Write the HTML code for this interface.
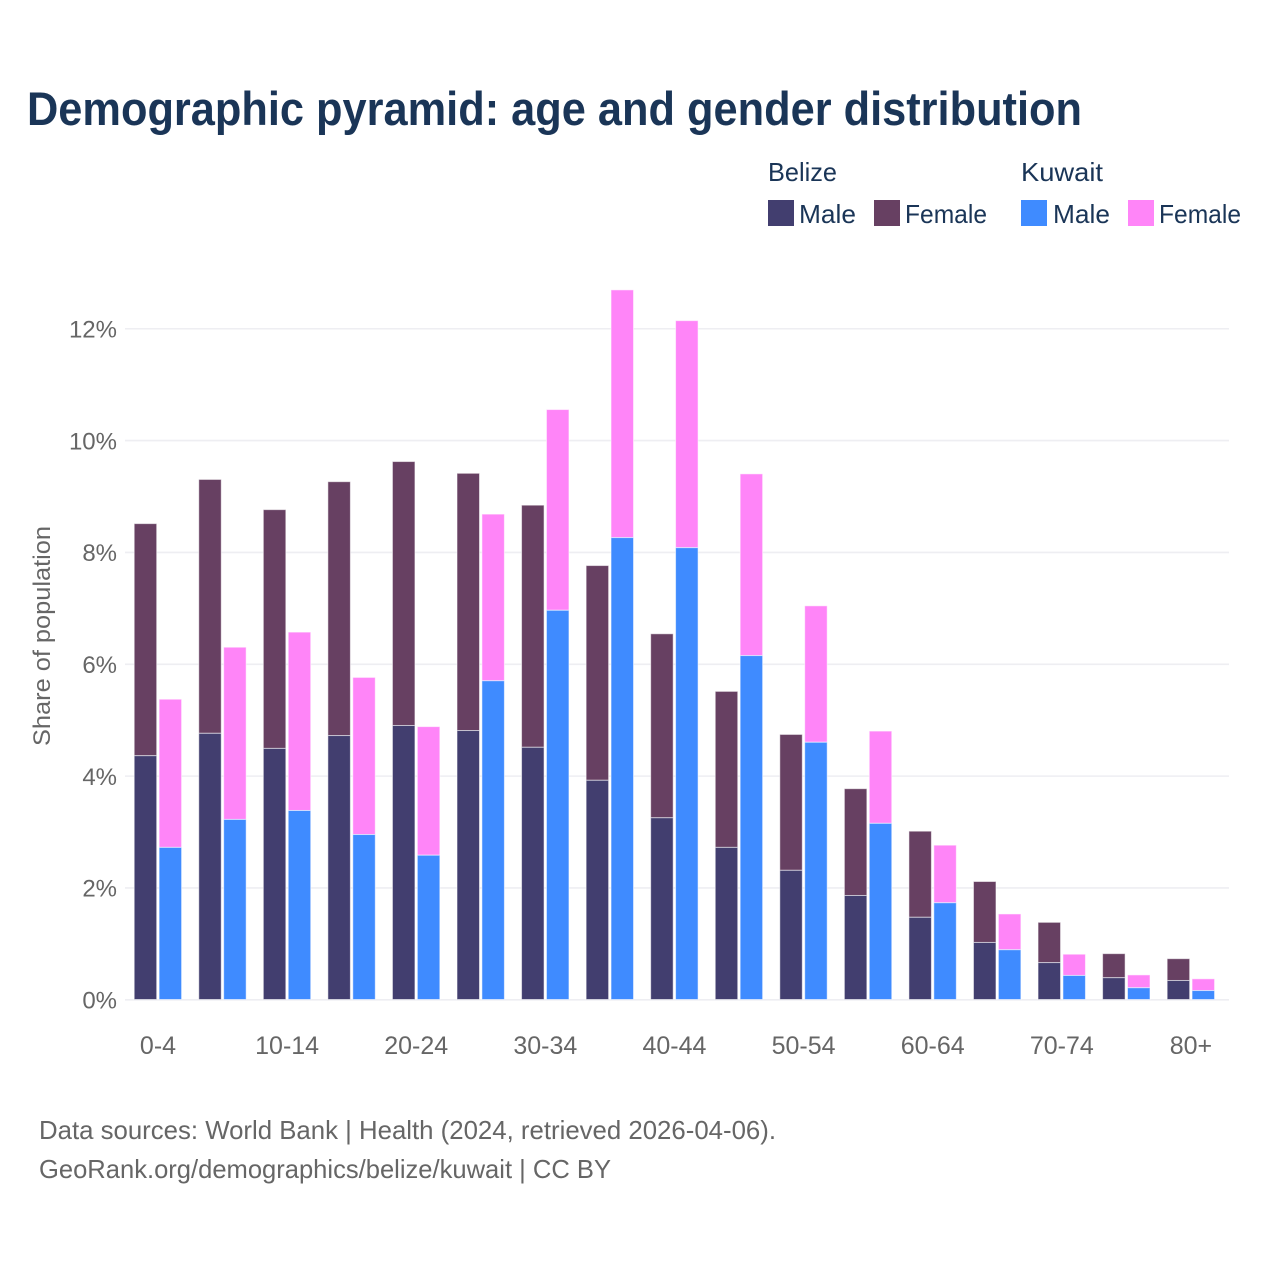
<!DOCTYPE html>
<html lang="en">
<head>
<meta charset="utf-8">
<title>Demographic pyramid: age and gender distribution</title>
<style>
  html, body { margin: 0; padding: 0; background: #ffffff; }
  svg { display: block; }
  text { font-family: "Liberation Sans", sans-serif; }
</style>
</head>
<body>
<svg id="chart" xmlns="http://www.w3.org/2000/svg" width="1280" height="1280" viewBox="0 0 1280 1280">
  <rect x="0" y="0" width="1280" height="1280" fill="#ffffff"/>
  <text x="27" y="125" font-size="47" font-weight="700" fill="#1a3557" textLength="1055" lengthAdjust="spacingAndGlyphs">Demographic pyramid: age and gender distribution</text>

  <g font-size="26" fill="#1a3557">
    <text x="768" y="181" textLength="69" lengthAdjust="spacingAndGlyphs">Belize</text>
    <text x="1021" y="181" textLength="82" lengthAdjust="spacingAndGlyphs">Kuwait</text>
    <rect x="768" y="200" width="26" height="26" fill="#423e6f"/>
    <text x="799" y="223" textLength="57" lengthAdjust="spacingAndGlyphs">Male</text>
    <rect x="874" y="200" width="26" height="26" fill="#674062"/>
    <text x="905" y="223" textLength="82" lengthAdjust="spacingAndGlyphs">Female</text>
    <rect x="1021" y="200" width="26" height="26" fill="#3f8bff"/>
    <text x="1053" y="223" textLength="57" lengthAdjust="spacingAndGlyphs">Male</text>
    <rect x="1128" y="200" width="26" height="26" fill="#ff85f8"/>
    <text x="1159" y="223" textLength="82" lengthAdjust="spacingAndGlyphs">Female</text>
  </g>

  <g id="grid"></g>
  <g id="yticks"></g>
  <g id="bars"></g>
  <g id="xticks"></g>

  <text transform="translate(50,746) rotate(-90)" x="0" y="0" font-size="24" fill="#666666" textLength="220" lengthAdjust="spacingAndGlyphs">Share of population</text>

  <text x="39" y="1139" font-size="26" fill="#666666" textLength="737" lengthAdjust="spacingAndGlyphs">Data sources: World Bank | Health (2024, retrieved 2026-04-06).</text>
  <text x="39" y="1178" font-size="26" fill="#666666" textLength="572" lengthAdjust="spacingAndGlyphs">GeoRank.org/demographics/belize/kuwait | CC BY</text>
</svg>
<script>
const ageGroups = ["0-4","5-9","10-14","15-19","20-24","25-29","30-34","35-39","40-44","45-49","50-54","55-59","60-64","65-69","70-74","75-79","80+"];
const belizeMale = [4.36,4.76,4.49,4.72,4.90,4.81,4.51,3.92,3.25,2.72,2.31,1.86,1.47,1.02,0.66,0.39,0.34];
const belizeFemale = [4.15,4.54,4.27,4.54,4.72,4.60,4.33,3.84,3.29,2.79,2.43,1.91,1.54,1.09,0.72,0.43,0.39];
const kuwaitMale = [2.72,3.22,3.38,2.95,2.58,5.70,6.96,8.26,8.08,6.15,4.60,3.15,1.73,0.89,0.43,0.21,0.16];
const kuwaitFemale = [2.65,3.08,3.19,2.81,2.30,2.98,3.59,4.43,4.06,3.25,2.44,1.65,1.03,0.64,0.38,0.23,0.21];
const yTicks = [0,2,4,6,8,10,12];
const xTickLabels = ["0-4","10-14","20-24","30-34","40-44","50-54","60-64","70-74","80+"];

const NS = "http://www.w3.org/2000/svg";
const plotLeft = 125, plotRight = 1229;
function yScale(v) { return 999.5 - v * 55.92; }
function xCenter(i) { return 158 + i * 64.56; }

function makeRect(x, y, w, h, fill) {
  const r = document.createElementNS(NS, "rect");
  r.setAttribute("x", x);
  r.setAttribute("y", y);
  r.setAttribute("width", w);
  r.setAttribute("height", h);
  r.setAttribute("fill", fill);
  r.setAttribute("stroke", "#ffffff");
  r.setAttribute("stroke-opacity", "0.55");
  r.setAttribute("stroke-width", "1");
  return r;
}

const gridG = document.getElementById("grid");
const yG = document.getElementById("yticks");
yTicks.forEach(function (t) {
  const l = document.createElementNS(NS, "line");
  
  
  l.setAttribute("x1", plotLeft);
  l.setAttribute("x2", plotRight);
  l.setAttribute("y1", yScale(t) + 0.3);
  l.setAttribute("y2", yScale(t) + 0.3);
  l.setAttribute("stroke", "#eeeef2");
  l.setAttribute("stroke-width", "1.6");
  gridG.appendChild(l);

  const tx = document.createElementNS(NS, "text");
  
  
  tx.setAttribute("x", 117);
  tx.setAttribute("y", yScale(t) + 9);
  tx.setAttribute("text-anchor", "end");
  tx.setAttribute("font-size", "24");
  tx.setAttribute("fill", "#666666");
  tx.textContent = t + "%";
  yG.appendChild(tx);
});

const barsG = document.getElementById("bars");
const barW = 22.5;
ageGroups.forEach(function (g, i) {
  const c = xCenter(i);
  const bx = c - 23.8;
  const kx = c + 1.1;
  const bmTop = yScale(belizeMale[i]);
  const bfTop = yScale(belizeMale[i] + belizeFemale[i]);
  const kmTop = yScale(kuwaitMale[i]);
  const kfTop = yScale(kuwaitMale[i] + kuwaitFemale[i]);
  const base = yScale(0);

  const bf = makeRect(bx, bfTop, barW, bmTop - bfTop, "#674062");
  
  
  barsG.appendChild(bf);

  const bm = makeRect(bx, bmTop, barW, base - bmTop, "#423e6f");
  
  
  barsG.appendChild(bm);

  const kf = makeRect(kx, kfTop, barW, kmTop - kfTop, "#ff85f8");
  
  
  barsG.appendChild(kf);

  const km = makeRect(kx, kmTop, barW, base - kmTop, "#3f8bff");
  
  
  barsG.appendChild(km);
});

const xG = document.getElementById("xticks");
xTickLabels.forEach(function (lab) {
  const tx = document.createElementNS(NS, "text");
  
  
  tx.setAttribute("x", xCenter(ageGroups.indexOf(lab)));
  tx.setAttribute("y", 1054);
  tx.setAttribute("text-anchor", "middle");
  tx.setAttribute("font-size", "25");
  tx.setAttribute("fill", "#666666");
  tx.textContent = lab;
  xG.appendChild(tx);
});
</script>
</body>
</html>
